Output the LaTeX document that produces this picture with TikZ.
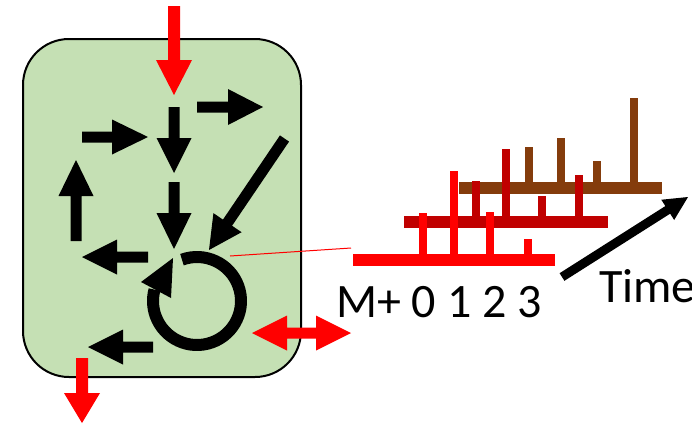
\documentclass[tikz,border=0pt]{standalone}
\usepackage{fontspec}
\setmainfont{Carlito}
\usetikzlibrary{calc}
\definecolor{cellgreen}{HTML}{C5E0B4}
\definecolor{pkred}{HTML}{FF0000}
\definecolor{pkdark}{HTML}{C00000}
\definecolor{pkbrown}{HTML}{843C0C}
% #1 colour, #2 start, #3 end, #4 shaft width, #5 head width, #6 head length
\newcommand\blockarrow[6]{%
  \fill[#1] let \p1=(#2), \p2=(#3), \n1={atan2(\y2-\y1,\x2-\x1)}, \n2={veclen(\x2-\x1,\y2-\y1)} in
    [shift={(\p1)}, rotate=\n1]
    (0,#4/2) -- (\n2-#6,#4/2) -- (\n2-#6,#5/2) -- (\n2,0) -- (\n2-#6,-#5/2) -- (\n2-#6,-#4/2) -- (0,-#4/2) -- cycle;}
\tikzset{
  cellbox/.style={draw=black, line width=2pt, fill=cellgreen, rounded corners=46pt},
  peak/.style={line width=8pt},
  baseline/.style={line width=12pt},
  lbl/.style={inner sep=0pt, font=\fontsize{48}{52}\selectfont}
}
\begin{document}
\begin{tikzpicture}[x=1pt,y=-1pt]
\useasboundingbox (0,0) rectangle (692,426);
% cell
\draw[cellbox] (23,39) rectangle (301,377);
% coordinates
\coordinate (inA) at (174,6);   \coordinate (inB) at (174,95);
\coordinate (outA) at (82,358); \coordinate (outB) at (82,423);
\coordinate (d1a) at (174,107); \coordinate (d1b) at (174,173);
\coordinate (r1a) at (197,107); \coordinate (r1b) at (263,107);
\coordinate (r2a) at (82,137);  \coordinate (r2b) at (148,137);
\coordinate (d2a) at (174,182); \coordinate (d2b) at (174,249);
\coordinate (u1a) at (76,241);  \coordinate (u1b) at (76,160);
\coordinate (dga) at (284.5,138.5); \coordinate (dgb) at (209,250);
\coordinate (l1a) at (148,257); \coordinate (l1b) at (82,257);
\coordinate (l2a) at (153,347); \coordinate (l2b) at (88,347);
\coordinate (ta) at (562,277);  \coordinate (tb) at (688,197);
\coordinate (ring) at (197,301);
% red flux arrows
\blockarrow{pkred}{inA}{inB}{12}{36}{35}
\blockarrow{pkred}{outA}{outB}{12}{36}{30}
% black pathway arrows
\blockarrow{black}{d1a}{d1b}{11}{35}{35}
\blockarrow{black}{r1a}{r1b}{11}{36}{35}
\blockarrow{black}{r2a}{r2b}{11}{35}{36}
\blockarrow{black}{d2a}{d2b}{11}{35}{36}
\blockarrow{black}{u1a}{u1b}{11}{35}{36}
\blockarrow{black}{dga}{dgb}{11}{34}{33}
\blockarrow{black}{l1a}{l1b}{11}{35}{35}
\blockarrow{black}{l2a}{l2b}{11}{35}{35}
% cycle
\draw[line width=12pt] (ring) ++(-110:44) arc[start angle=-110, end angle=195, radius=44];
\fill[black] (173,258) -- (141,282) -- (171,298) -- cycle;
% exchange double arrow
\fill[pkred] (252,333) -- (287,315.5) -- (287,327.5) -- (316,327.5) -- (316,315.5) -- (351,333)
  -- (316,350.5) -- (316,338.5) -- (287,338.5) -- (287,350.5) -- cycle;
% thin leader line
\coordinate (lead1) at (230,256); \coordinate (lead2) at (351,248);
\draw[pkred, line width=1pt] (lead1) -- (lead2);
% spectra: brown (back), dark red, red (front)
\draw[pkbrown, baseline] (459,188) -- (662,188);
\foreach \x/\t in {529/147, 561/138, 597/161, 634/98}
  \draw[pkbrown, peak] (\x,188) -- (\x,\t);
\draw[pkdark, baseline] (404,222) -- (608,222);
\foreach \x/\t in {476/181, 506/149, 542/196, 579/175}
  \draw[pkdark, peak] (\x,222) -- (\x,\t);
\draw[pkred, baseline] (353,260) -- (555,260);
\foreach \x/\t in {423/213, 454/171, 490/212, 528/239}
  \draw[pkred, peak] (\x,260) -- (\x,\t);
% time arrow
\blockarrow{black}{ta}{tb}{9}{24}{24}
% labels
\node[lbl, anchor=base west] (mlabel) at (336,317) {M+ 0 1 2 3};
\node[lbl, anchor=base west] (tlabel) at (599,302) {Time};
\end{tikzpicture}
\end{document}
